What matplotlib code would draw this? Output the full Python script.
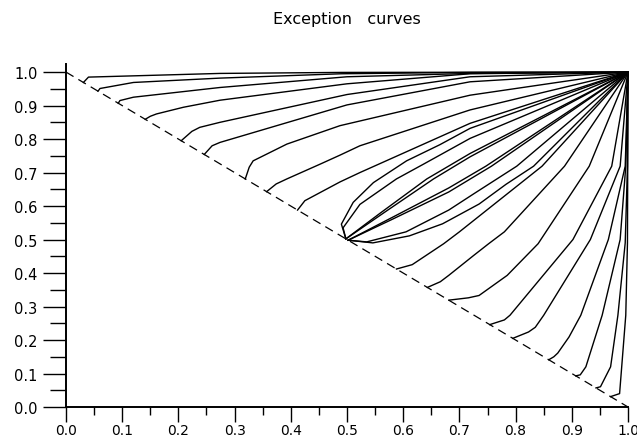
import matplotlib
matplotlib.use("Agg")
from matplotlib import pyplot as plt
from matplotlib.ticker import MultipleLocator

# curves above the diagonal (start on the dashed line, end at (1,1))
c1_x = [0.031, 0.040, 0.274, 0.49, 1.0]
c1_y = [0.969, 0.985, 0.996, 0.999, 1.0]
c2_x = [0.057, 0.0605, 0.12, 0.274, 0.49, 0.719, 1.0]
c2_y = [0.943, 0.951, 0.969, 0.982, 0.995, 0.999, 1.0]
c3_x = [0.093, 0.096, 0.12, 0.274, 0.5, 0.719, 1.0]
c3_y = [0.907, 0.915, 0.925, 0.954, 0.986, 0.996, 1.0]
c4_x = [0.141, 0.150, 0.161, 0.209, 0.274, 0.5, 0.719, 1.0]
c4_y = [0.859, 0.868, 0.875, 0.895, 0.916, 0.965, 0.995, 1.0]
c5_x = [0.205, 0.224, 0.238, 0.274, 0.5, 0.719, 1.0]
c5_y = [0.795, 0.823, 0.835, 0.850, 0.933, 0.986, 1.0]
c6_x = [0.246, 0.260, 0.274, 0.5, 0.719, 1.0]
c6_y = [0.754, 0.780, 0.790, 0.902, 0.971, 1.0]
c7_x = [0.319, 0.326, 0.333, 0.393, 0.4875, 0.719, 1.0]
c7_y = [0.681, 0.716, 0.735, 0.785, 0.840, 0.931, 1.0]
c8_x = [0.357, 0.374, 0.393, 0.452, 0.4875, 0.523, 0.719, 1.0]
c8_y = [0.643, 0.666, 0.681, 0.725, 0.752, 0.780, 0.887, 1.0]
c9_x = [0.412, 0.425, 0.4875, 0.523, 0.719, 1.0]
c9_y = [0.588, 0.616, 0.672, 0.700, 0.847, 1.0]

# curves leaving the point (0.5, 0.5), upper half
a_x = [0.498, 0.490, 0.511, 0.547, 0.606, 0.665, 0.719, 1.0]
a_y = [0.502, 0.546, 0.611, 0.670, 0.735, 0.783, 0.832, 1.0]
b_x = [0.498, 0.493, 0.523, 0.588, 0.636, 0.719, 1.0]
b_y = [0.502, 0.535, 0.605, 0.681, 0.725, 0.802, 1.0]
c_x = [0.498, 0.56, 0.642, 0.719, 1.0]
c_y = [0.502, 0.58, 0.681, 0.757, 1.0]
d_x = [0.498, 0.57, 0.654, 0.719, 1.0]
d_y = [0.502, 0.585, 0.681, 0.747, 1.0]

# the picture is symmetric about y = x: the lower curves are the same ones with x and y swapped
upper = [(c1_x, c1_y), (c2_x, c2_y), (c3_x, c3_y), (c4_x, c4_y), (c5_x, c5_y),
         (c6_x, c6_y), (c7_x, c7_y), (c8_x, c8_y), (c9_x, c9_y),
         (a_x, a_y), (b_x, b_y), (c_x, c_y), (d_x, d_y)]

diag_x = [0.0, 1.0]
diag_y = [1.0, 0.0]

ticks = [0.0, 0.1, 0.2, 0.3, 0.4, 0.5, 0.6, 0.7, 0.8, 0.9, 1.0]
tick_labels = ["%.1f" % t for t in ticks]

plt.rcParams['font.family'] = ['DejaVu Sans']

fig = plt.figure(figsize=(6.37, 4.39), dpi=100)
ax = fig.add_axes([0.1036, 0.0706, 0.8823, 0.782])

for xs, ys in upper:
    ax.plot(xs, ys, color='black', lw=1.0, clip_on=False, solid_joinstyle='round')
    ax.plot(ys, xs, color='black', lw=1.0, clip_on=False, solid_joinstyle='round')

ax.plot(diag_x, diag_y, color='black', lw=0.9, linestyle=(0, (7, 4.5)), clip_on=False)

ax.set_xlim(0, 1)
ax.set_ylim(0, 1.025)
ax.spines['top'].set_visible(False)
ax.spines['right'].set_visible(False)
ax.spines['left'].set_linewidth(1.4)
ax.spines['bottom'].set_linewidth(1.4)

ax.set_xticks(ticks)
ax.set_xticklabels(tick_labels)
ax.set_yticks(ticks)
ax.set_yticklabels(tick_labels)
ax.xaxis.set_minor_locator(MultipleLocator(0.05))
ax.yaxis.set_minor_locator(MultipleLocator(0.05))
ax.tick_params(axis='x', which='major', direction='out', length=10.5, width=1.0, pad=1, labelsize=10)
ax.tick_params(axis='x', which='minor', direction='out', length=6, width=1.0)
ax.tick_params(axis='y', which='major', direction='out', length=16.5, width=1.0, pad=4, labelsize=10.5)
ax.tick_params(axis='y', which='minor', direction='out', length=11.5, width=1.0)

fig.text(0.545, 0.955, "Exception   curves", ha='center', va='center', fontsize=11.5)

plt.savefig('out.png', dpi=100)
